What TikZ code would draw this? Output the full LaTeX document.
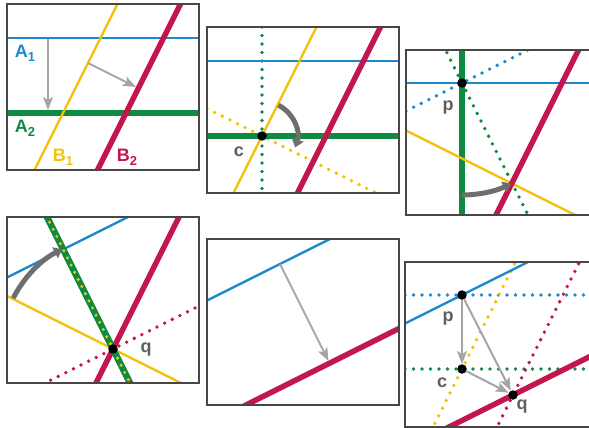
\documentclass[tikz,border=0pt]{standalone}
\usepackage{fontspec}
\setmainfont{Liberation Sans}
\usetikzlibrary{arrows.meta}
\definecolor{lblue}{RGB}{30,136,206}
\definecolor{lgreen}{RGB}{14,138,66}
\definecolor{lyellow}{RGB}{245,192,10}
\definecolor{lred}{RGB}{194,22,76}
\definecolor{agray}{RGB}{165,165,165}
\definecolor{cgray}{RGB}{110,110,110}
\definecolor{tgray}{RGB}{95,95,95}
\newcommand{\idx}[1]{\raisebox{-0.4ex}{\fontsize{13}{13}\selectfont#1}}

\begin{document}
\begin{tikzpicture}[x=1pt, y=-1pt, >=Stealth,
  font=\fontsize{18}{20}\selectfont\bfseries,
  panel/.style={draw=black!72, line width=1.3pt},
  ln/.style={line width=2.4pt},
  fat/.style={line width=5.5pt},
  dots/.style={line width=3.8pt, line cap=round, dash pattern=on 0pt off 8.5pt},
  slide/.style={draw=agray, line width=2pt, -{Stealth[length=13pt,width=10pt,inset=3pt]}},
  sweep/.style={draw=cgray, line width=5pt, -{Triangle[length=8pt,width=12pt]}},
  isect/.style={circle, fill=black, inner sep=0pt, minimum size=9.5pt},
  lbl/.style={text=tgray}]
  \useasboundingbox (0,0) rectangle (589,428);
  \clip (0,0) rectangle (589,428);

  % panel 1
  \begin{scope}
    \clip (7,4) rectangle (199,170);
    \draw[ln, lblue] (0,38) -- (199,38);
    \draw[fat, lgreen] (0,113) -- (199,113);
    \draw[ln, lyellow] (119,1) -- (34,171);
    \draw[fat, lred] (182,1) -- (97,171);
    \coordinate (s1) at (48,39);
    \coordinate (e1) at (48,110);
    \coordinate (s2) at (88,63);
    \coordinate (e2) at (136,87);
    \draw[slide] (s1) -- (e1);
    \draw[slide] (s2) -- (e2);
    \node[lblue] (la1) at (25,53) {A\idx{1}};
    \node[lgreen] (la2) at (25,128) {A\idx{2}};
    \node[lyellow] (lb1) at (63,157) {B\idx{1}};
    \node[lred] (lb2) at (127,157) {B\idx{2}};
  \end{scope}
  \draw[panel] (7,4) rectangle (199,170);

  % panel 2
  \begin{scope}
    \clip (207,27) rectangle (399,193);
    \draw[dots, lgreen] (262,27) -- (262,195);
    \draw[dots, lyellow] (207,108.5) -- (399,204.5);
    \draw[ln, lblue] (207,61) -- (399,61);
    \draw[fat, lgreen] (207,136) -- (399,136);
    \draw[ln, lyellow] (318,24) -- (232,196);
    \draw[fat, lred] (382,24) -- (296,196);
    \node[isect] (c1) at (262,136) {};
    \draw[sweep] (c1) ++(-62:35) arc[start angle=-62, end angle=19, radius=35];
    \node[lbl] (lc1) at (239,152) {c};
  \end{scope}
  \draw[panel] (207,27) rectangle (399,193);

  % panel 3
  \begin{scope}
    \clip (406,50) rectangle (598,215);
    \draw[dots, lblue] (406,111) -- (598,15);
    \draw[dots, lgreen] (443,45) -- (531,221);
    \draw[ln, lblue] (406,83) -- (598,83);
    \draw[fat, lgreen] (462,50) -- (462,215);
    \draw[ln, lyellow] (406,130.5) -- (598,226.5);
    \draw[fat, lred] (581,45) -- (494,219);
    \node[isect] (p1) at (462,83) {};
    \draw[sweep] (p1) ++(90:112) arc[start angle=90, end angle=64, radius=112];
    \node[lbl] (lp1) at (448,108) {p};
  \end{scope}
  \draw[panel] (406,50) rectangle (598,215);

  % panel 4
  \begin{scope}
    \clip (7,217) rectangle (199,383);
    \draw[ln, lblue] (5,278.5) -- (130,216);
    \draw[ln, lyellow] (5,295) -- (201,393);
    \draw[dots, lred] (5,403) -- (201,305);
    \draw[fat, lred] (180,215) -- (95,385);
    \draw[line width=6.5pt, lgreen] (46,215) -- (131,385);
    \draw[dots, line width=3.4pt, dash pattern=on 0pt off 8pt, lyellow] (46,215) -- (131,385);
    \node[isect] (q1) at (113,349) {};
    \draw[sweep] (q1) ++(207:112) arc[start angle=207, end angle=243, radius=112];
    \node[lbl] (lq1) at (146,350) {q};
  \end{scope}
  \draw[panel] (7,217) rectangle (199,383);

  % panel 5
  \begin{scope}
    \clip (207,239) rectangle (399,405);
    \draw[ln, lblue] (205,301.5) -- (401,203.5);
    \draw[fat, lred] (244,406) -- (401,327.5);
    \coordinate (s3) at (280,264);
    \coordinate (e3) at (328.5,361);
    \draw[slide] (s3) -- (e3);
  \end{scope}
  \draw[panel] (207,239) rectangle (399,405);

  % panel 6
  \begin{scope}
    \clip (405,262) rectangle (598,427);
    \draw[dots, lblue] (405,295) -- (598,295);
    \draw[dots, lgreen] (405,369) -- (598,369);
    \draw[dots, lyellow] (431,431) -- (517,259);
    \draw[dots, lred] (495,431) -- (581,259);
    \draw[ln, lblue] (403,324.5) -- (530,261);
    \draw[fat, lred] (443,430) -- (600,351.5);
    \node[isect] (p2) at (462,295) {};
    \node[isect] (c2) at (462,369) {};
    \node[isect] (q2) at (513,395) {};
    \draw[slide] (p2) -- (c2);
    \draw[slide] (c2) -- (q2);
    \draw[slide] (p2) -- (q2);
    \node[lbl] (lp2) at (448,319) {p};
    \node[lbl] (lc2) at (442,383) {c};
    \node[lbl] (lq2) at (522,407) {q};
  \end{scope}
  \draw[panel] (405,262) rectangle (598,427);
\end{tikzpicture}
\end{document}
